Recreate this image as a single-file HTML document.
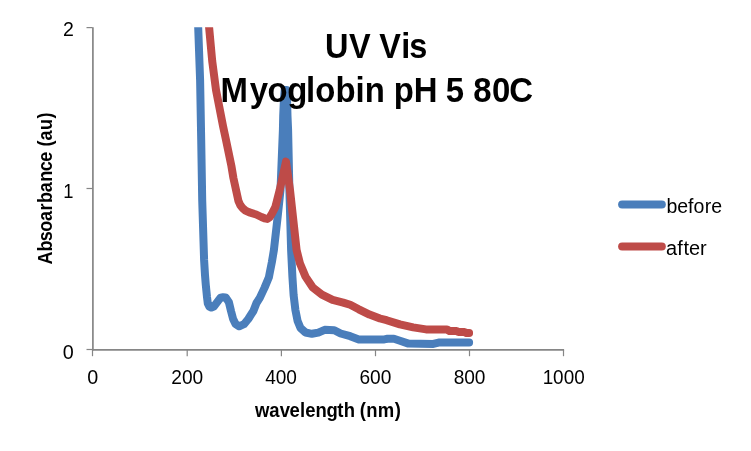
<!DOCTYPE html>
<html lang="en">
<head>
<meta charset="utf-8">
<title>UV Vis Myoglobin pH 5 80C</title>
<style>
html,body{margin:0;padding:0;background:#fff;}
body{width:751px;height:451px;overflow:hidden;font-family:"Liberation Sans",sans-serif;}
svg{display:block;}
svg text{font-family:"Liberation Sans",sans-serif;fill:#000;white-space:pre;}
</style>
</head>
<body>
<svg width="751" height="451" viewBox="0 0 751 451">
<rect width="751" height="451" fill="#fff"/>
<defs><clipPath id="plot"><rect x="80" y="27.3" width="500" height="340"/></clipPath></defs>
<g clip-path="url(#plot)" fill="none" stroke-width="8.0" stroke-linejoin="round" stroke-linecap="round">
<polyline stroke="#4a7ebb" points="197.2,0.0 198.2,27.3 200.1,80.0 201.2,140.0 202.2,200.0 204.1,260.0 205.0,275.0 205.8,285.0 207.0,297.0 207.8,303.4 209.4,306.6 211.4,307.6 213.8,306.6 220.6,297.6 223.0,297.2 225.7,297.4 228.9,302.2 231.0,311.0 233.1,319.0 235.4,323.8 239.2,326.3 244.0,324.2 248.3,319.0 253.4,311.0 256.5,303.0 259.8,297.9 264.6,287.6 268.9,277.2 269.8,272.4 271.9,262.0 273.9,250.0 277.3,220.0 280.5,190.0 282.9,130.0 283.2,116.0 283.9,100.0 284.7,90.0 286.6,90.0 287.1,100.0 287.5,116.0 288.1,130.0 289.4,190.0 291.1,250.0 292.4,276.6 293.6,295.0 295.4,310.0 297.6,321.0 300.5,328.0 305.5,332.5 311.9,333.8 318.3,332.6 324.7,329.8 334.3,330.2 340.6,333.5 350.2,336.2 358.8,339.4 384.3,339.4 387.5,338.8 393.9,338.8 399.2,340.5 408.5,343.6 433.3,343.9 438.6,342.6 469.1,342.6"/>
<polyline stroke="#be4b48" points="206.1,0.0 209.1,27.3 212.2,61.0 216.0,90.0 223.0,126.0 226.0,140.0 231.4,166.0 233.4,178.0 238.4,200.8 240.2,205.0 242.6,208.2 245.5,210.6 249.4,212.4 256.2,214.5 261.4,217.0 264.5,218.3 267.3,218.9 269.5,217.5 272.0,213.5 275.3,207.2 279.7,190.0 286.0,161.6 290.0,190.0 296.6,250.0 299.9,263.3 305.5,276.6 312.6,287.3 321.9,294.6 332.6,299.9 343.2,302.6 350.2,304.8 358.8,309.3 369.5,314.6 380.0,318.5 386.6,320.2 399.9,324.4 413.2,327.4 426.0,329.4 447.0,329.5 449.5,331.0 456.5,331.0 458.5,332.1 464.5,332.1 466.5,333.0 469.1,333.0"/>
</g>
<g stroke="#868686" fill="none">
<g stroke-width="1.7">
<line x1="92.9" y1="27.2" x2="92.9" y2="350.5"/>
<line x1="92" y1="349.8" x2="564.1" y2="349.8"/>
</g>
<g stroke-width="1.2">
<line x1="92.5" y1="350" x2="92.5" y2="356.2"/><line x1="187.2" y1="350" x2="187.2" y2="356.2"/><line x1="281.4" y1="350" x2="281.4" y2="356.2"/><line x1="375.5" y1="350" x2="375.5" y2="356.2"/><line x1="469.5" y1="350" x2="469.5" y2="356.2"/><line x1="563.5" y1="350" x2="563.5" y2="356.2"/><line x1="86.5" y1="27.6" x2="92.5" y2="27.6"/><line x1="86.5" y1="188.5" x2="92.5" y2="188.5"/><line x1="86.5" y1="349.5" x2="92.5" y2="349.5"/>
</g>
</g>
<g>
<text transform="translate(87.5,384.0) scale(1.0133,1)" x="-0.26" font-size="19.5">0</text>
<text transform="translate(171.4,384.0) scale(0.9812,1)" x="-0.04 10.68 21.46" font-size="19.5">200</text>
<text transform="translate(265.2,384.0) scale(0.9776,1)" x="0.09 10.75 21.57" font-size="19.5">400</text>
<text transform="translate(359.6,384.0) scale(0.9812,1)" x="-0.04 10.68 21.46" font-size="19.5">600</text>
<text transform="translate(453.8,384.0) scale(0.9813,1)" x="-0.09 10.68 21.46" font-size="19.5">800</text>
<text transform="translate(542.5,384.0) scale(0.9696,1)" x="0.21 10.93 21.81 32.68" font-size="19.5">1000</text>
<text transform="translate(63.0,358.9) scale(1.0133,1)" x="-0.26" font-size="19.5">0</text>
<text transform="translate(63.0,198.0) scale(0.9403,1)" x="0.36" font-size="19.5">1</text>
<text transform="translate(63.0,36.0) scale(1.0,1)" x="-0.12" font-size="19.5">2</text>
</g>
<g>
<text transform="translate(324.3,57.9) scale(0.95,1)" x="0.66 25.88 48.7 57.97 80.9 89.39" font-size="34.2" font-weight="bold">UV Vis</text>
<text transform="translate(218.15,101.5) scale(0.9626,1)" x="2.42 32.7 51.29 71.83 91.35 100.85 121.89 142.68 152.33 173.22 182.33 203.11 227.82 236.4 255.44 265.07 284.63 302.36" font-size="34.2" font-weight="bold">Myoglobin pH 5 80C</text>
<text transform="translate(254.7,417.1) scale(0.9588,1)" x="0.4 15.31 26 36.43 47.32 52.65 63.49 74.94 86.04 92.99 104.79 109.61 116.36 128.28 145.98" font-size="19.3" font-weight="bold">wavelength (nm)</text>
<text transform="translate(51.9,264.2) rotate(-90) scale(0.9332,1)" x="-0.37 13.55 24.55 34.7 46.27 57.59 65.47 76.98 88.29 99.63 109.92 120.66 126.03 132.6 143.87 156.18" font-size="19.3" font-weight="bold">Absoarbance (au)</text>
</g>
<g fill="none" stroke-width="8" stroke-linecap="round">
<line stroke="#4a7ebb" x1="622.1" y1="204.6" x2="661.8" y2="204.6"/>
<line stroke="#be4b48" x1="622.1" y1="246.6" x2="661.8" y2="246.6"/>
</g>
<g>
<text transform="translate(666.4,212.8) scale(1.0131,1)" x="0.11 10.66 21.31 26.78 37.79 44.18" font-size="19.3">before</text>
<text transform="translate(666.8,255.0) scale(1.0341,1)" x="-0.8 10.09 16.18 21.44 32.04" font-size="19.3">after</text>
</g>
</svg>
</body>
</html>
